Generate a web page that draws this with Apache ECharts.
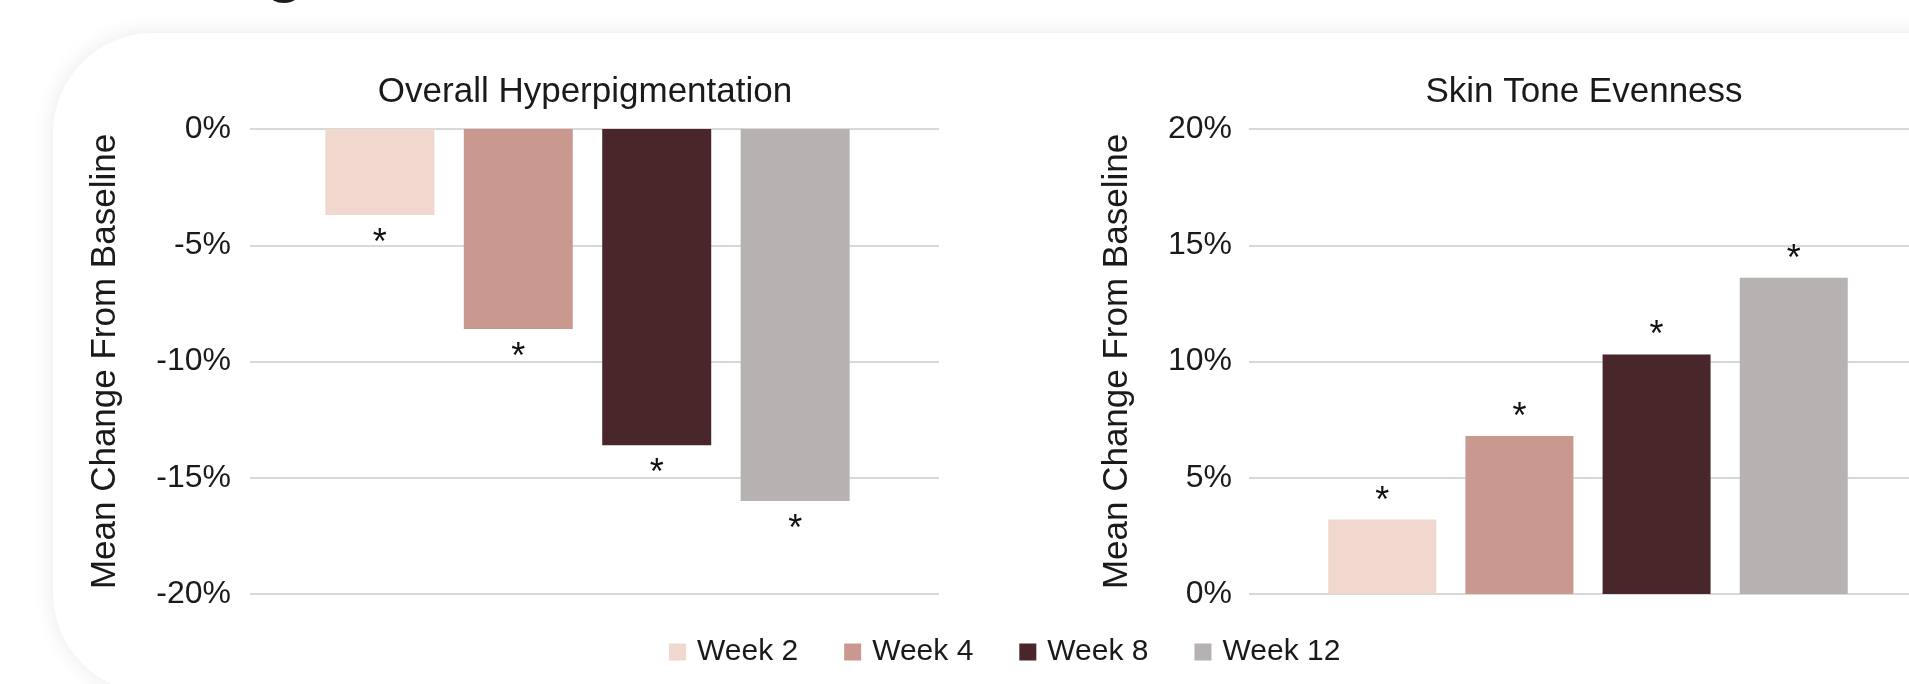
<!DOCTYPE html>
<html>
<head>
<meta charset="utf-8">
<script src="https://cdn.jsdelivr.net/npm/echarts@6/dist/echarts.min.js"></script>
<style>
    html, body { margin: 0; padding: 0; background: #fff; }
    #chart { width: 1909px; height: 684px; }
</style>
</head>
<body>
<div id="chart"></div>
<script>
    // data
    var weeks = ['Week 2', 'Week 4', 'Week 8', 'Week 12'];
    var hyperpigmentation = [-3.7, -8.6, -13.6, -16.0];   // Overall Hyperpigmentation, %
    var evenness = [3.2, 6.8, 10.3, 13.6];                // Skin Tone Evenness, %
    var categories = [''];

    var colors = ['#f1d8ce', '#c9998f', '#492629', '#b6b2b1'];
    var font = 'Liberation Sans, Arial, sans-serif';

    function yAxis(gridIndex, min, max, margin, nameGap) {
        return {
            gridIndex: gridIndex,
            type: 'value',
            min: min,
            max: max,
            interval: 5,
            name: 'Mean Change From Baseline',
            nameLocation: 'middle',
            nameGap: nameGap,
            nameTextStyle: {fontSize: 35, color: '#1a1a1a', fontFamily: font},
            axisLine: {show: false},
            axisTick: {show: false},
            axisLabel: {formatter: '{value}%', fontSize: 32, color: '#1a1a1a', fontFamily: font, margin: margin},
            splitLine: {lineStyle: {color: '#d9d9d9', width: 2}}
        };
    }

    function xAxis(gridIndex) {
        return {
            gridIndex: gridIndex,
            type: 'category',
            data: categories,
            axisLine: {show: false},
            axisTick: {show: false},
            axisLabel: {show: false}
        };
    }

    var series = [];
    weeks.forEach(function (name, i) {
        // left chart (bars sit in grid 2, a bit left of the gridlines), asterisk below bar end
        series.push({
            name: name,
            type: 'bar',
            xAxisIndex: 2,
            yAxisIndex: 2,
            data: [hyperpigmentation[i]],
            barWidth: 109,
            barGap: '27%',
            itemStyle: {color: colors[i]},
            label: {show: true, position: 'bottom', distance: 11, formatter: '*', fontSize: 36, color: '#111', fontFamily: font}
        });
        // right chart, asterisk above bar
        series.push({
            name: name,
            type: 'bar',
            xAxisIndex: 1,
            yAxisIndex: 1,
            data: [evenness[i]],
            barWidth: 108,
            barGap: '27%',
            itemStyle: {color: colors[i]},
            label: {show: true, position: 'top', distance: 0, formatter: '*', fontSize: 36, color: '#111', fontFamily: font}
        });
    });

    var myChart = echarts.init(document.getElementById('chart'));
    myChart.setOption({
        backgroundColor: '#fff',
        animation: false,
        graphic: [
            // white card with soft shadow
            {
                type: 'rect', z: -10,
                shape: {x: 53, y: 33, width: 1960, height: 660, r: 100},
                style: {fill: '#fff', shadowBlur: 22, shadowColor: 'rgba(0,0,0,0.09)'}
            },
            // tail of the page heading, cut off at the top
            {
                type: 'text', x: 265, y: -28,
                style: {text: 'g', fontSize: 65, fontWeight: 'bold', fill: '#1c1c1c', fontFamily: font, verticalAlign: 'middle'}
            },
            {
                type: 'text', x: 585, y: 92,
                style: {text: 'Overall Hyperpigmentation', fontSize: 35, fill: '#1a1a1a', fontFamily: font, align: 'center', verticalAlign: 'middle'}
            },
            {
                type: 'text', x: 1584, y: 92,
                style: {text: 'Skin Tone Evenness', fontSize: 35, fill: '#1a1a1a', fontFamily: font, align: 'center', verticalAlign: 'middle'}
            }
        ],
        legend: {
            data: weeks,
            left: 669,
            top: 637,
            padding: 0,
            icon: 'rect',
            itemWidth: 17,
            itemHeight: 17,
            itemGap: 46,
            textStyle: {fontSize: 30, lineHeight: 30, color: '#1a1a1a', fontFamily: font, padding: [0, 0, 0, 6]}
        },
        grid: [
            {left: 250, top: 129, width: 689, height: 465, outerBoundsMode: 'none'},
            {left: 1249, top: 129, width: 678, height: 465, outerBoundsMode: 'none'},
            {left: 243, top: 129, width: 689, height: 465, outerBoundsMode: 'none'}
        ],
        xAxis: [xAxis(0), xAxis(1), xAxis(2)],
        yAxis: [
            yAxis(0, -20, 0, 19, 127),
            yAxis(1, 0, 20, 17, 114),
            {gridIndex: 2, type: 'value', min: -20, max: 0, show: false}
        ],
        series: series
    });
</script>
</body>
</html>
